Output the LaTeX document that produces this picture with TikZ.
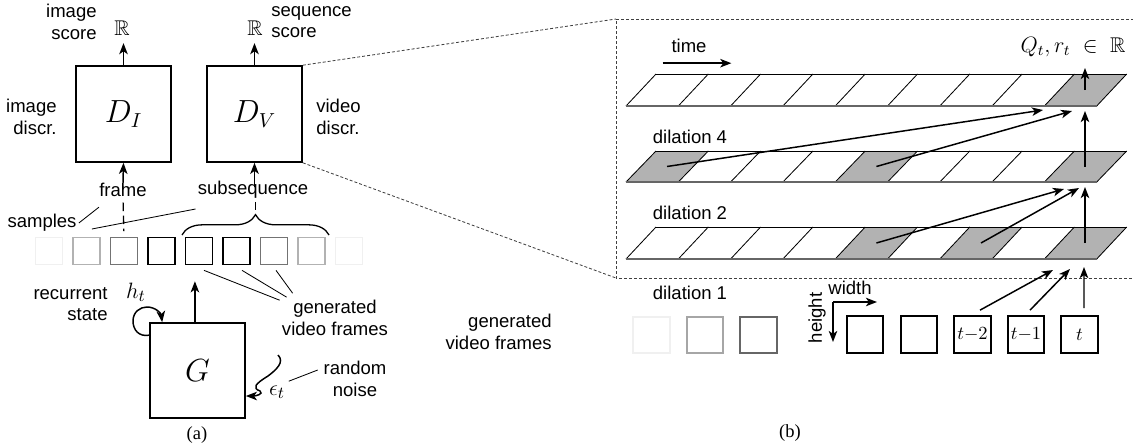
\documentclass[tikz,border=0pt]{standalone}
\usepackage{amssymb}
\usepackage{fontspec}
\setmainfont{Liberation Sans}
\newfontfamily\capfont{Liberation Serif}
\usetikzlibrary{arrows.meta,decorations.pathreplacing,calc}
\begin{document}
\begin{tikzpicture}[x=0.54pt,y=-0.54pt,
  font=\fontsize{10}{11.5}\selectfont,
  bigbox/.style={draw, line width=0.9pt, minimum width=51.3pt, minimum height=51.8pt, inner sep=0pt, font=\fontsize{16}{16}\selectfont},
  sfr/.style={draw, line width=0.9pt, minimum size=14.6pt, inner sep=0pt},
  bfr/.style={draw, line width=1.1pt, minimum size=19.8pt, inner sep=0pt},
  arr/.style={-{Stealth[length=6pt,width=4.6pt,inset=1.6pt]}, line width=0.8pt},
  thinline/.style={line width=0.45pt},
  dline/.style={line width=0.45pt, black!75, dash pattern=on 1.6pt off 1.1pt},
  ldash/.style={line width=0.7pt, dash pattern=on 4.5pt off 2.5pt},
  lbl/.style={inner sep=0pt},
  mlbl/.style={inner sep=0pt, font=\fontsize{12.5}{14}\selectfont},
  rlbl/.style={inner sep=0pt, font=\fontsize{11.5}{13}\selectfont},
  cellline/.style={line width=0.45pt},
  capt/.style={inner sep=0pt, font=\capfont\fontsize{10}{12}\selectfont},
]
\useasboundingbox (0,0) rectangle (1133,446);

% ---------------- (a) ----------------
\node[bigbox] (DI) at (123.5,114) {$D_I$};
\node[bigbox] (DV) at (254.5,114) {$D_V$};
\node[rlbl] (RI) at (122,28) {$\mathbb{R}$};
\node[rlbl] (RV) at (255,28) {$\mathbb{R}$};
\draw[arr, shorten >=4pt] (DI.north) -- (DI.north |- RI.south);
\draw[arr, shorten >=4pt] (DV.north) -- (DV.north |- RV.south);
\node[lbl, align=right, anchor=east] (isc) at (97,22) {image\\score};
\node[lbl, align=left, anchor=west] (ssc) at (271,22) {sequence\\score};
\node[lbl, align=right, anchor=east] (idc) at (57,117) {image\\discr.};
\node[lbl, align=left, anchor=west] (vdc) at (316,117) {video\\discr.};

\node[lbl] (frame) at (123,190) {frame};
\node[lbl] (subseq) at (253,190) {subsequence};
\draw[arr, shorten <=-3pt] (frame.north) -- (DI.south);
\draw[arr, shorten <=-3pt] (DV.south |- subseq.north) -- (DV.south);

\foreach \i/\c in {1/black!6,2/black!30,3/black!55,4/black,5/black,6/black,7/black!55,8/black!30,9/black!6}
  \node[sfr, draw=\c] (f\i) at ({49+37.5*(\i-1)},251) {};

\draw[ldash, shorten <=3pt, shorten >=3pt] (frame.south) -- (f3.north);
\draw[decorate, decoration={brace, amplitude=11pt}, line width=0.7pt] (182,235) -- (329,235);
\coordinate (bt) at (255.5,213);
\draw[ldash, shorten <=1.5pt] (subseq.south -| bt) -- (bt);

\node[lbl] (samples) at (42,223) {samples};
\draw[thinline] ([shift={(2,0)}]samples.east) -- ([shift={(0,10)}]frame.south west);
\draw[thinline] ([shift={(15,6)}]samples.east) -- ([shift={(-2,10)}]subseq.south west);

\node[bigbox, minimum height=51.3pt] (G) at (197.5,370.5) {$G$};
\coordinate (gtop) at ([xshift=-1.4pt]G.north);
\draw[arr, shorten >=8.6pt] (gtop) -- (gtop |- f5.south);

\node[lbl, align=right, anchor=east] (rec) at (108,304) {recurrent\\state};
\node[mlbl] (ht) at (136,292) {$h_t$};
\draw[arr] ($(G.north west)+(0,13)$) .. controls (139,337) and (133,330) .. (133,321)
  .. controls (133,312) and (140,307) .. (147,307)
  .. controls (155,307) and (161,313) .. ($(G.north west)+(13,0)$);

\node[mlbl] (eps) at (277,392) {$\epsilon_t$};
\draw[arr] (278,355) .. controls (285,362) and (276,370) .. (268,376)
  .. controls (255,384) and (252,388) .. (260,391)
  .. controls (264,394) and (256,396) .. (G.east |- 0,396);
\node[lbl, align=center] (noise) at (355,379) {random\\noise};
\draw[thinline] ([shift={(3.5,-4)}]eps.north east) -- ([shift={(-5.5,-9)}]noise.west);

\node[lbl, align=center] (gena) at (335,318) {generated\\video frames};
\draw[thinline] ([shift={(5,5)}]f5.south) -- ([shift={(-2,0)}]gena.north west);
\draw[thinline] ([shift={(5.5,5)}]f6.south) -- ([shift={(5,-3)}]gena.north west);
\draw[thinline] ([shift={(2,5)}]f7.south) -- ([shift={(11,-7)}]gena.north west);

\node[capt] (capa) at (197,435) {(a)};

% ---------------- (b) ----------------
\coordinate (zt) at (616,19);
\coordinate (zb) at (616,278);
\draw[dline] (1134,19) -- (zt) -- (zb) -- (1134,278);
\draw[dline] (DV.north east) -- (zt);
\draw[dline] (DV.south east) -- (zb);

\foreach \yt/\yb/\sh in {74/106/{8}, 151/182/{0,4,8}, 227/259/{4,6,8}} {
  \foreach \i in \sh {
    \fill[black!30] ({626+52.3*\i},\yb) -- ({626+52.3*(\i+1)},\yb) -- ({656+52.3*(\i+1)},\yt) -- ({656+52.3*\i},\yt) -- cycle;
  }
  \draw[cellline] (656,\yt) -- (1127,\yt);
  \foreach \i in {0,...,9} \draw[cellline] ({626+52.3*\i},\yb) -- ({656+52.3*\i},\yt);
  \draw[line width=0.7pt, black!60] (626,\yb) -- (1097,\yb);
}

\coordinate (r1c8) at (1085,90);
\coordinate (r2c0) at (667,166.5);
\coordinate (r2c4) at (876.4,166.5);
\coordinate (r2c8) at (1085,166.5);
\coordinate (r3c4) at (876.4,243);
\coordinate (r3c6) at (981,243);
\coordinate (r3c8) at (1085,243);
\coordinate (t1a) at (1043,110);
\coordinate (t1b) at (1072,111);
\coordinate (t1c) at (1085,111);
\coordinate (t2a) at (1064,189);
\coordinate (t2b) at (1079,188);
\coordinate (t2c) at (1085,187);
\coordinate (t3a) at (1053,270);
\coordinate (t3b) at (1070,269);
\coordinate (t3c) at (1084,267);
\coordinate (tq) at (1085,68);

\draw[arr] (r1c8) -- (tq);
\draw[arr] (r2c0) -- (t1a);
\draw[arr] (r2c4) -- (t1b);
\draw[arr] (r2c8) -- (t1c);
\draw[arr] (r3c4) -- (t2a);
\draw[arr] (r3c6) -- (t2b);
\draw[arr] (r3c8) -- (t2c);

\node[rlbl] (Q) at (1073,47) {$Q_t, r_t \;\in\; \mathbb{R}$};
\node[lbl] (time) at (689,46) {time};
\draw[arr] ($(time.south west)+(-8.5,10)$) -- ($(time.south east)+(24.5,10)$);

\node[lbl] (d4) at (690,137) {dilation 4};
\node[lbl] (d2) at (690,213) {dilation 2};
\node[lbl] (d1) at (690,293) {dilation 1};

\node[lbl, align=right, anchor=east] (genb) at (552,332) {generated\\video frames};

\node[bfr, draw=black!6] (b1) at (651.5,335) {};
\node[bfr, draw=black!35] (b2) at (705,335) {};
\node[bfr, draw=black!60] (b3) at (758.5,335) {};
\node[bfr] (b4) at (865,334.5) {};
\node[bfr] (b5) at (919,334.5) {};
\node[bfr] (b6) at (972.5,334.5) {$t{-}2$};
\node[bfr] (b7) at (1026,334.5) {$t{-}1$};
\node[bfr] (b8) at (1079.5,334.5) {$t$};

\draw[arr] ([shift={(7.5,-5)}]b6.north) -- (t3a);
\draw[arr] ([shift={(4,-5)}]b7.north) -- (t3b);
\draw[arr] ([shift={(4.5,-7)}]b8.north) -- (t3c);

\coordinate (ax) at (833,302);
\coordinate (axw) at (877,302);
\coordinate (axh) at (833,342);
\draw[arr] (ax) -- (axw);
\draw[arr] (ax) -- (axh);
\node[lbl] (wl) at (850,288) {width};
\node[lbl, rotate=90] (hl) at (817,318) {height};

\node[capt] (capb) at (790,433) {(b)};
\end{tikzpicture}
\end{document}
